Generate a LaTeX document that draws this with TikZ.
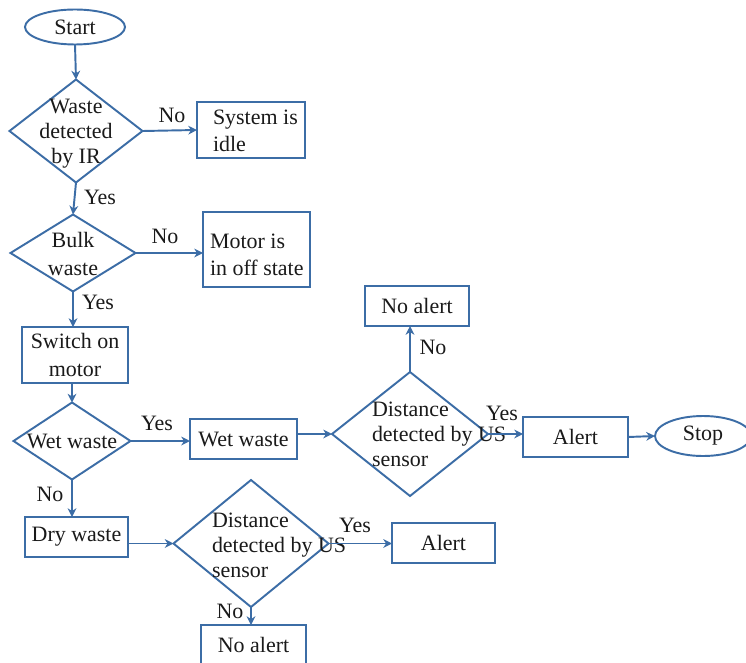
\documentclass[tikz,border=0pt]{standalone}
\usepackage{fontspec}
\setmainfont{Liberation Serif}
\usetikzlibrary{shapes.geometric,arrows.meta}
\definecolor{flowline}{HTML}{3C6DA6}
\definecolor{flowtext}{HTML}{1A1A1A}
\begin{document}
\begin{tikzpicture}[x=0.02cm,y=-0.02cm,
  every node/.style={inner sep=0pt,outer sep=0pt,text=flowtext,
    font=\fontsize{12.5}{14.2}\selectfont},
  box/.style={draw=flowline,line width=1.1pt,fill=white,rectangle},
  term/.style={draw=flowline,line width=1.1pt,fill=white,ellipse},
  decision/.style={draw=flowline,line width=1.1pt,fill=white,diamond},
  flow/.style={draw=flowline,line width=1.1pt,-{Stealth[length=5pt,width=5pt]}},
  lbl/.style={}]
\useasboundingbox (0,0) rectangle (746,662);
\clip (0,0) rectangle (746,662);

% terminals
\node[term,minimum width=100*0.02cm,minimum height=35*0.02cm] (start) at (75,27) {Start};
\node[term,minimum width=96*0.02cm,minimum height=40*0.02cm] (stop) at (703,436) {Stop};

% decisions (shapes), with their texts set on top
\node[decision,minimum width=133*0.02cm,minimum height=103*0.02cm] (d1) at (76,131) {};
\node[align=center] (d1t) at (76,134) {Waste\\detected\\by IR};
\node[decision,minimum width=125*0.02cm,minimum height=77*0.02cm] (d2) at (73,253) {};
\node[align=center,font=\fontsize{12.5}{16}\selectfont] (d2t) at (73,254) {Bulk\\waste};
\node[decision,minimum width=117*0.02cm,minimum height=77*0.02cm] (d3) at (72,441) {};
\node (d3t) at (72,441) {Wet waste};
\node[decision,minimum width=156*0.02cm,minimum height=124*0.02cm] (d4) at (410,434) {};
\node[align=left,anchor=west] (d4t) at (372,434) {Distance\\detected by US\\sensor};
\node[decision,minimum width=155*0.02cm,minimum height=127*0.02cm] (d5) at (251,543.5) {};
\node[align=left,anchor=west] (d5t) at (212,545) {Distance\\detected by US\\sensor};

% process boxes
\node[box,minimum width=108*0.02cm,minimum height=56*0.02cm] (idle) at (251,130) {};
\node[align=left,anchor=west,font=\fontsize{12.5}{15.5}\selectfont] (idlet) at (213,131) {System is\\idle};
\node[box,minimum width=107*0.02cm,minimum height=75*0.02cm] (motor) at (256.5,249.5) {};
\node[align=left,anchor=west,font=\fontsize{12.5}{15.5}\selectfont] (motort) at (210,255) {Motor is\\in off state};
\node[box,minimum width=106*0.02cm,minimum height=56*0.02cm,align=center,
  font=\fontsize{12.5}{16}\selectfont] (switch) at (75,355) {Switch on\\motor};
\node[box,minimum width=107*0.02cm,minimum height=40*0.02cm] (wet) at (243.5,439) {Wet waste};
\node[box,minimum width=104*0.02cm,minimum height=40*0.02cm] (na1) at (417,306) {No alert};
\node[box,minimum width=105*0.02cm,minimum height=40*0.02cm] (al1) at (575.5,437) {Alert};
\node[box,minimum width=103*0.02cm,minimum height=40*0.02cm] (dry) at (76.5,537) {Dry waste};
\node[box,minimum width=103*0.02cm,minimum height=40*0.02cm] (al2) at (443.5,543) {Alert};
\node[box,minimum width=105*0.02cm,minimum height=44*0.02cm] (na2) at (253.5,647) {};
\node (na2t) at (253.5,645) {No alert};

% connectors
\draw[flow] (start.south) -- (d1.north);
\draw[flow] (d1.east) -- (idle.west);
\draw[flow] (d1.south) -- (d2.north);
\draw[flow] (d2.east) -- (motor.west |- d2.east);
\draw[flow] (d2.south) -- (switch.north -| d2.south);
\draw[flow] (switch.south -| d3.north) -- (d3.north);
\draw[flow] (d3.east) -- (wet.west |- d3.east);
\draw[flow] (wet.east |- d4.west) -- (d4.west);
\draw[flow] (d4.north) -- (d4.north |- na1.south);
\draw[flow] (d4.east) -- (al1.west |- d4.east);
\draw[flow] (al1.east) -- (stop.west);
\draw[flow] (d3.south) -- (dry.north -| d3.south);
\draw[flow] (dry.east |- d5.west) -- (d5.west);
\draw[flow] (d5.east) -- (al2.west |- d5.east);
\draw[flow] (d5.south) -- (na2.north -| d5.south);

% branch labels
\node[lbl] (n1) at (172,115) {No};
\node[lbl] (y1) at (100,197) {Yes};
\node[lbl] (n2) at (165,236) {No};
\node[lbl] (y2) at (98,302) {Yes};
\node[lbl] (y3) at (157,423) {Yes};
\node[lbl] (n3) at (433,347) {No};
\node[lbl] (y4) at (502,413) {Yes};
\node[lbl] (n4) at (50,494) {No};
\node[lbl] (y5) at (355,525) {Yes};
\node[lbl] (n5) at (230,611) {No};
\end{tikzpicture}
\end{document}
